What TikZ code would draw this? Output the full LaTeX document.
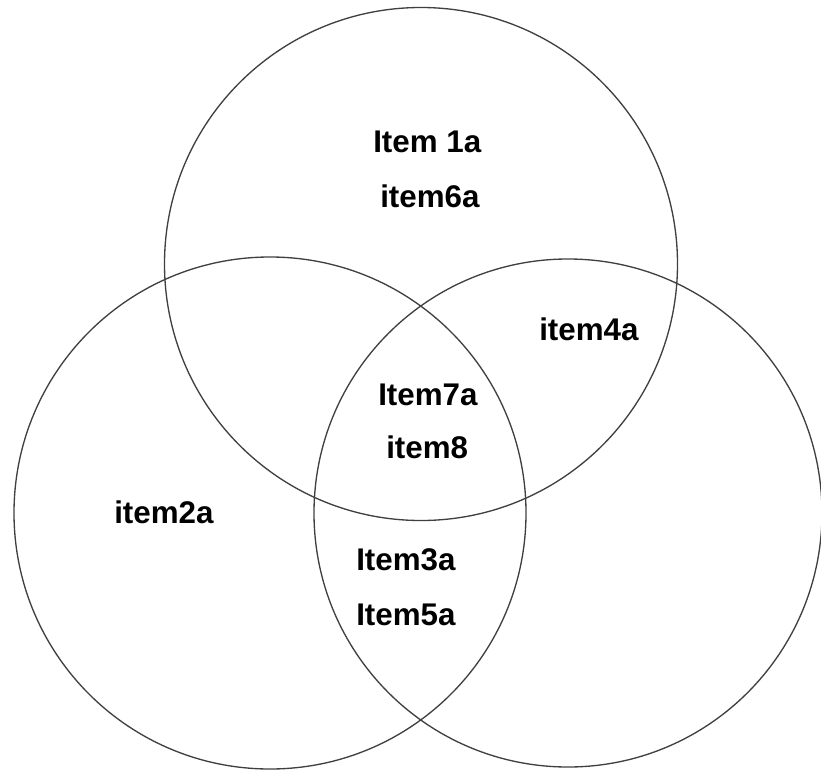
\documentclass[tikz,border=0pt]{standalone}
\usepackage{fontspec}
\setmainfont{Liberation Sans}
\begin{document}
\begin{tikzpicture}[x=0.75pt,y=-0.75pt,
  ring/.style={draw=black!75, line width=1pt},
  lbl/.style={anchor=base west, inner sep=0pt, font=\fontsize{23.5}{28}\selectfont\bfseries}]
\useasboundingbox (0,0) rectangle (821,771);
\node[ring, circle, minimum size=513*0.75pt, inner sep=0pt] (top) at (421,264) {};
\node[ring, circle, minimum size=512*0.75pt, inner sep=0pt] (left) at (270,513) {};
\node[ring, circle, minimum size=508*0.75pt, inner sep=0pt] (right) at (568,513) {};
\node[lbl] (t1) at (373,152) {Item 1a};
\node[lbl] (t6) at (380,207) {item6a};
\node[lbl] (t4) at (539,340) {item4a};
\node[lbl] (t7) at (378,405) {Item7a};
\node[lbl] (t8) at (386,458) {item8};
\node[lbl] (t2) at (114,523) {item2a};
\node[lbl] (t3) at (356,570) {Item3a};
\node[lbl] (t5) at (356,625) {Item5a};
\end{tikzpicture}
\end{document}
